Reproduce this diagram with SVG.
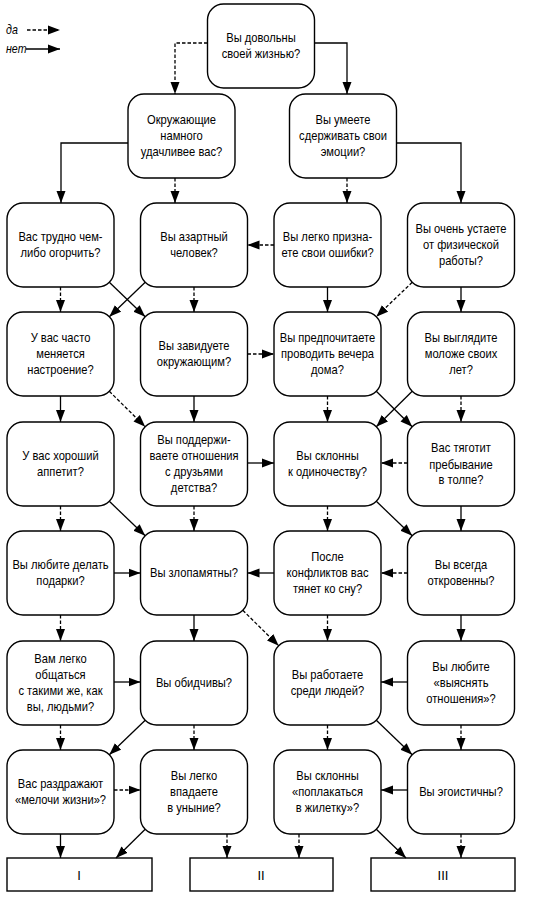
<svg xmlns="http://www.w3.org/2000/svg" width="533" height="900" viewBox="0 0 533 900">
<style>
.n rect{fill:#fff;stroke:#000;stroke-width:1.4}
text{font-family:"Liberation Sans",Arial,sans-serif;font-size:13px;text-anchor:middle;fill:#000}
.lg{font-style:italic;font-size:13px;text-anchor:start}
.c line,.c path{fill:none;stroke:#000;stroke-width:1.3}
.y{stroke-dasharray:3.5,2}
.s{marker-end:url(#a)}
</style>
<defs>
<marker id="a" markerUnits="userSpaceOnUse" markerWidth="13" markerHeight="10" refX="12" refY="4.5" orient="auto" viewBox="0 0 13 9"><path d="M0,0 L12,4.5 L0,9 z" fill="#000"/></marker>
</defs>
<g id="legend">
<g transform="translate(6 0) scale(0.82 1)"><text class="lg" y="34">да</text><text class="lg" y="53">нет</text></g>
</g>
<g id="q0" class="n"><rect x="207.5" y="4" width="107" height="84" rx="16"/><g transform="translate(261 0) scale(0.86 1)"><text y="42.5">Вы довольны</text><text y="58.5">своей жизнью?</text></g></g>
<g id="qa" class="n"><rect x="128" y="94" width="107" height="84" rx="16"/><g transform="translate(181.5 0) scale(0.86 1)"><text y="124.5">Окружающие</text><text y="140.5">намного</text><text y="156.5">удачливее вас?</text></g></g>
<g id="qb" class="n"><rect x="289.5" y="94" width="107" height="84" rx="16"/><g transform="translate(343 0) scale(0.86 1)"><text y="124.5">Вы умеете</text><text y="140.5">сдерживать свои</text><text y="156.5">эмоции?</text></g></g>

<g id="r1c1" class="n"><rect x="7" y="203" width="107" height="84" rx="16"/><g transform="translate(60.5 0) scale(0.86 1)"><text y="241.5">Вас трудно чем-</text><text y="257.5">либо огорчить?</text></g></g>
<g id="r1c2" class="n"><rect x="140.5" y="203" width="107" height="84" rx="16"/><g transform="translate(194 0) scale(0.86 1)"><text y="241.5">Вы азартный</text><text y="257.5">человек?</text></g></g>
<g id="r1c3" class="n"><rect x="274" y="203" width="107" height="84" rx="16"/><g transform="translate(327.5 0) scale(0.86 1)"><text y="241.5">Вы легко призна-</text><text y="257.5">ете свои ошибки?</text></g></g>
<g id="r1c4" class="n"><rect x="407.5" y="203" width="107" height="84" rx="16"/><g transform="translate(461 0) scale(0.86 1)"><text y="233.5">Вы очень устаете</text><text y="249.5">от физической</text><text y="265.5">работы?</text></g></g>

<g id="r2c1" class="n"><rect x="7" y="312" width="107" height="84" rx="16"/><g transform="translate(60.5 0) scale(0.86 1)"><text y="342.5">У вас часто</text><text y="358.5">меняется</text><text y="374.5">настроение?</text></g></g>
<g id="r2c2" class="n"><rect x="140.5" y="312" width="107" height="84" rx="16"/><g transform="translate(194 0) scale(0.86 1)"><text y="350.5">Вы завидуете</text><text y="366.5">окружающим?</text></g></g>
<g id="r2c3" class="n"><rect x="274" y="312" width="107" height="84" rx="16"/><g transform="translate(327.5 0) scale(0.86 1)"><text y="342.5">Вы предпочитаете</text><text y="358.5">проводить вечера</text><text y="374.5">дома?</text></g></g>
<g id="r2c4" class="n"><rect x="407.5" y="312" width="107" height="84" rx="16"/><g transform="translate(461 0) scale(0.86 1)"><text y="342.5">Вы выглядите</text><text y="358.5">моложе своих</text><text y="374.5">лет?</text></g></g>

<g id="r3c1" class="n"><rect x="7" y="422" width="107" height="84" rx="16"/><g transform="translate(60.5 0) scale(0.86 1)"><text y="460.5">У вас хороший</text><text y="476.5">аппетит?</text></g></g>
<g id="r3c2" class="n"><rect x="140.5" y="422" width="107" height="84" rx="16"/><g transform="translate(194 0) scale(0.86 1)"><text y="444.5">Вы поддержи-</text><text y="460.5">ваете отношения</text><text y="476.5">с друзьями</text><text y="492.5">детства?</text></g></g>
<g id="r3c3" class="n"><rect x="274" y="422" width="107" height="84" rx="16"/><g transform="translate(327.5 0) scale(0.86 1)"><text y="460.5">Вы склонны</text><text y="476.5">к одиночеству?</text></g></g>
<g id="r3c4" class="n"><rect x="407.5" y="422" width="107" height="84" rx="16"/><g transform="translate(461 0) scale(0.86 1)"><text y="452.5">Вас тяготит</text><text y="468.5">пребывание</text><text y="484.5">в толпе?</text></g></g>

<g id="r4c1" class="n"><rect x="7" y="531" width="107" height="84" rx="16"/><g transform="translate(60.5 0) scale(0.86 1)"><text y="569.5">Вы любите делать</text><text y="585.5">подарки?</text></g></g>
<g id="r4c2" class="n"><rect x="140.5" y="531" width="107" height="84" rx="16"/><g transform="translate(194 0) scale(0.86 1)"><text y="577.5">Вы злопамятны?</text></g></g>
<g id="r4c3" class="n"><rect x="274" y="531" width="107" height="84" rx="16"/><g transform="translate(327.5 0) scale(0.86 1)"><text y="561.5">После</text><text y="577.5">конфликтов вас</text><text y="593.5">тянет ко сну?</text></g></g>
<g id="r4c4" class="n"><rect x="407.5" y="531" width="107" height="84" rx="16"/><g transform="translate(461 0) scale(0.86 1)"><text y="569.5">Вы всегда</text><text y="585.5">откровенны?</text></g></g>

<g id="r5c1" class="n"><rect x="7" y="641" width="107" height="84" rx="16"/><g transform="translate(60.5 0) scale(0.86 1)"><text y="663.5">Вам легко</text><text y="679.5">общаться</text><text y="695.5">с такими же, как</text><text y="711.5">вы, людьми?</text></g></g>
<g id="r5c2" class="n"><rect x="140.5" y="641" width="107" height="84" rx="16"/><g transform="translate(194 0) scale(0.86 1)"><text y="687.5">Вы обидчивы?</text></g></g>
<g id="r5c3" class="n"><rect x="274" y="641" width="107" height="84" rx="16"/><g transform="translate(327.5 0) scale(0.86 1)"><text y="679.5">Вы работаете</text><text y="695.5">среди людей?</text></g></g>
<g id="r5c4" class="n"><rect x="407.5" y="641" width="107" height="84" rx="16"/><g transform="translate(461 0) scale(0.86 1)"><text y="671.5">Вы любите</text><text y="687.5">«выяснять</text><text y="703.5">отношения»?</text></g></g>

<g id="r6c1" class="n"><rect x="7" y="750" width="107" height="84" rx="16"/><g transform="translate(60.5 0) scale(0.86 1)"><text y="788.5">Вас раздражают</text><text y="804.5">«мелочи жизни»?</text></g></g>
<g id="r6c2" class="n"><rect x="140.5" y="750" width="107" height="84" rx="16"/><g transform="translate(194 0) scale(0.86 1)"><text y="780.5">Вы легко</text><text y="796.5">впадаете</text><text y="812.5">в уныние?</text></g></g>
<g id="r6c3" class="n"><rect x="274" y="750" width="107" height="84" rx="16"/><g transform="translate(327.5 0) scale(0.86 1)"><text y="780.5">Вы склонны</text><text y="796.5">«поплакаться</text><text y="812.5">в жилетку»?</text></g></g>
<g id="r6c4" class="n"><rect x="407.5" y="750" width="107" height="84" rx="16"/><g transform="translate(461 0) scale(0.86 1)"><text y="796.5">Вы эгоистичны?</text></g></g>

<g id="res1" class="n"><rect x="7" y="858" width="145" height="33"/><text x="79" y="880">I</text></g>
<g id="res2" class="n"><rect x="190" y="858" width="143" height="33"/><text x="261" y="880">II</text></g>
<g id="res3" class="n"><rect x="371" y="858" width="144" height="33"/><text x="443" y="880">III</text></g>

<g id="connectors" class="c">
<line class="y s" x1="27" y1="30" x2="60" y2="30"/>
<line class="s" x1="26" y1="49" x2="60" y2="49"/>
<path class="y s" d="M207.5,43 H175 V94"/>
<path class="s" d="M314.5,43 H347 V94"/>
<path class="s" d="M128,143 H61 V203"/>
<path class="s" d="M396.5,143 H461 V203"/>
<line class="y s" x1="175" y1="178" x2="175" y2="203"/>
<line class="y s" x1="347" y1="178" x2="347" y2="203"/>

<line class="y s" x1="60.5" y1="287" x2="60.5" y2="312"/>
<line class="y s" x1="194" y1="287" x2="194" y2="312"/>
<line class="s" x1="327.5" y1="287" x2="327.5" y2="312"/>
<line class="s" x1="461" y1="287" x2="461" y2="312"/>
<line class="s" x1="109.3" y1="282.3" x2="145.2" y2="316.7"/>
<line class="s" x1="145.2" y1="282.3" x2="109.3" y2="316.7"/>
<line class="y s" x1="412.2" y1="282.3" x2="376.3" y2="316.7"/>
<line class="y s" x1="274" y1="245" x2="247.5" y2="245"/>

<line class="s" x1="60.5" y1="396" x2="60.5" y2="422"/>
<line class="s" x1="194" y1="396" x2="194" y2="422"/>
<line class="y s" x1="327.5" y1="396" x2="327.5" y2="422"/>
<line class="y s" x1="461" y1="396" x2="461" y2="422"/>
<line class="y s" x1="109.3" y1="391.3" x2="145.2" y2="426.7"/>
<line class="s" x1="376.3" y1="391.3" x2="412.2" y2="426.7"/>
<line class="s" x1="412.2" y1="391.3" x2="376.3" y2="426.7"/>
<line class="y s" x1="247.5" y1="354" x2="274" y2="354"/>

<line class="y s" x1="60.5" y1="506" x2="60.5" y2="531"/>
<line class="y s" x1="194" y1="506" x2="194" y2="531"/>
<line class="y s" x1="327.5" y1="506" x2="327.5" y2="531"/>
<line class="s" x1="461" y1="506" x2="461" y2="531"/>
<line class="s" x1="109.3" y1="501.3" x2="145.2" y2="535.7"/>
<line class="s" x1="376.3" y1="501.3" x2="412.2" y2="535.7"/>
<line class="s" x1="247.5" y1="463" x2="274" y2="463"/>
<line class="y s" x1="407.5" y1="463" x2="381" y2="463"/>

<line class="y s" x1="60.5" y1="615" x2="60.5" y2="641"/>
<line class="s" x1="194" y1="615" x2="194" y2="641"/>
<line class="y s" x1="327.5" y1="615" x2="327.5" y2="641"/>
<line class="s" x1="461" y1="615" x2="461" y2="641"/>
<line class="y s" x1="242.8" y1="610.3" x2="278.7" y2="645.7"/>
<line class="s" x1="114" y1="573" x2="140.5" y2="573"/>
<line class="s" x1="274" y1="573" x2="247.5" y2="573"/>
<line class="y s" x1="407.5" y1="573" x2="381" y2="573"/>

<line class="y s" x1="60.5" y1="725" x2="60.5" y2="750"/>
<line class="y s" x1="194" y1="725" x2="194" y2="750"/>
<line class="y s" x1="327.5" y1="725" x2="327.5" y2="750"/>
<line class="y s" x1="461" y1="725" x2="461" y2="750"/>
<line class="s" x1="145.2" y1="720.3" x2="109.3" y2="754.7"/>
<line class="s" x1="376.3" y1="720.3" x2="412.2" y2="754.7"/>
<line class="s" x1="114" y1="682" x2="140.5" y2="682"/>
<line class="s" x1="407.5" y1="682" x2="381" y2="682"/>

<line class="s" x1="60.5" y1="834" x2="60.5" y2="858"/>
<line class="s" x1="145.2" y1="829.3" x2="116" y2="858"/>
<line class="y s" x1="227" y1="834" x2="227" y2="858"/>
<line class="y s" x1="299" y1="834" x2="299" y2="858"/>
<line class="s" x1="376.3" y1="829.3" x2="406" y2="858"/>
<line class="y s" x1="461" y1="834" x2="461" y2="858"/>
<line class="y s" x1="114" y1="790" x2="140.5" y2="790"/>
<line class="s" x1="407.5" y1="790" x2="381" y2="790"/>
</g>
</svg>
